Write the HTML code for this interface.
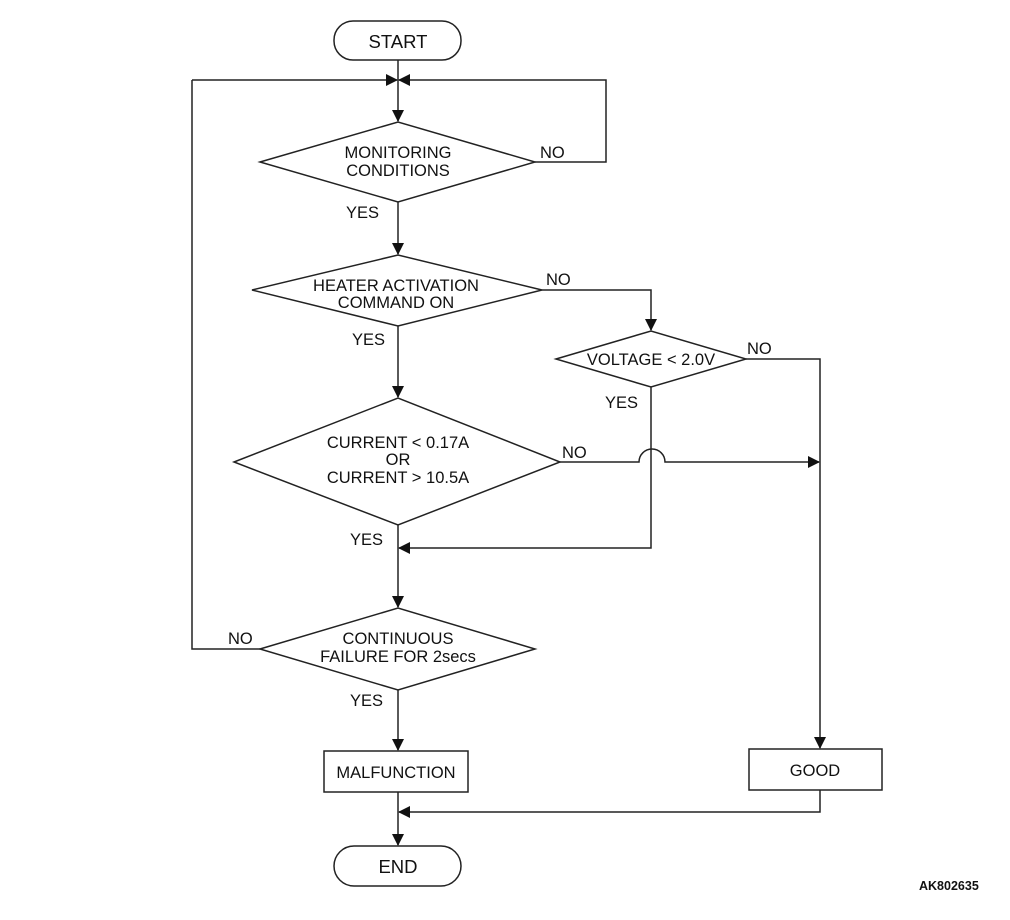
<!DOCTYPE html>
<html><head><style>
body{margin:0;background:#fff}
svg text{font-family:"Liberation Sans",Arial,sans-serif;font-size:16.5px;fill:#111}
</style></head><body>
<svg width="1010" height="915" xmlns="http://www.w3.org/2000/svg">
<defs><marker id="a" markerWidth="12" markerHeight="12" refX="11" refY="6" orient="auto" markerUnits="userSpaceOnUse"><path d="M0,0 L12,6 L0,12z" fill="#111"/></marker></defs>
<g fill="none" stroke="#222" stroke-width="1.5">
<rect x="334" y="21" width="127" height="39" rx="19"/>
<rect x="334" y="846" width="127" height="40" rx="20"/>
<rect x="324" y="751" width="144" height="41"/>
<rect x="749" y="749" width="133" height="41"/>
<polygon points="260,162 398,122 535,162 398,202"/>
<polygon points="252,290 398,255 542,290 398,326"/>
<polygon points="556,359 651,331 746,359 651,387"/>
<polygon points="234,462 398,398 560,462 398,525"/>
<polygon points="260,649 398,608 535,649 398,690"/>
<path d="M398,60 V121" marker-end="url(#a)"/>
<path d="M192,80 H397" marker-end="url(#a)"/>
<path d="M535,162 H606 V80 H399" marker-end="url(#a)"/>
<path d="M398,202 V254" marker-end="url(#a)"/>
<path d="M542,290 H651 V330" marker-end="url(#a)"/>
<path d="M398,326 V397" marker-end="url(#a)"/>
<path d="M746,359 H820 V748" marker-end="url(#a)"/>
<path d="M560,462 H639 A13,13 0 0 1 665,462 H819" marker-end="url(#a)"/>
<path d="M651,387 V548 H399" marker-end="url(#a)"/>
<path d="M398,525 V607" marker-end="url(#a)"/>
<path d="M260,649 H192 V80"/>
<path d="M398,690 V750" marker-end="url(#a)"/>
<path d="M820,790 V812 H399" marker-end="url(#a)"/>
<path d="M398,792 V845" marker-end="url(#a)"/>
</g>
<g text-anchor="middle">
<text x="398" y="48" style="font-size:18.5px">START</text>
<text x="398" y="873" style="font-size:18.5px">END</text>
<text x="398" y="158">MONITORING</text><text x="398" y="176">CONDITIONS</text>
<text x="396" y="291">HEATER ACTIVATION</text><text x="396" y="308">COMMAND ON</text>
<text x="651" y="365">VOLTAGE &lt; 2.0V</text>
<text x="398" y="448">CURRENT &lt; 0.17A</text><text x="398" y="465">OR</text><text x="398" y="483">CURRENT &gt; 10.5A</text>
<text x="398" y="644">CONTINUOUS</text><text x="398" y="662">FAILURE FOR 2secs</text>
<text x="396" y="778">MALFUNCTION</text>
<text x="815" y="776">GOOD</text>
</g>
<text x="540" y="158">NO</text>
<text x="346" y="218">YES</text>
<text x="546" y="285">NO</text>
<text x="352" y="345">YES</text>
<text x="747" y="354">NO</text>
<text x="605" y="408">YES</text>
<text x="562" y="458">NO</text>
<text x="350" y="545">YES</text>
<text x="228" y="644">NO</text>
<text x="350" y="706">YES</text>
<text x="919" y="890" style="font-size:12.5px;font-weight:bold">AK802635</text>
</svg>
</body></html>
